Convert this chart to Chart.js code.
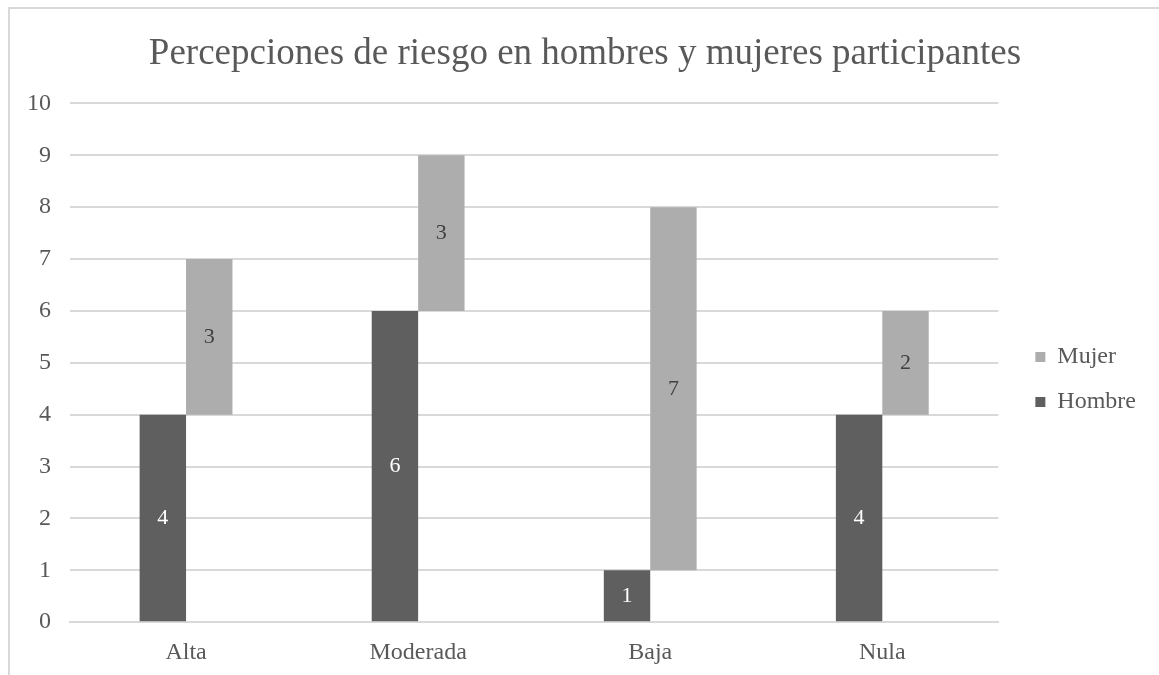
<!DOCTYPE html>
<html>
<head>
<meta charset="utf-8">
<script src="https://cdn.jsdelivr.net/npm/chart.js@4"></script>
<style>
  html, body { margin: 0; padding: 0; background: #fff; overflow: hidden; }
  #frame { position: absolute; left: 8px; top: 7px; width: 1160px; height: 700px; border: 2px solid #d9d9d9; box-sizing: border-box; }
  #wrap { position: absolute; left: 0; top: 0; width: 1159px; height: 675px; }
</style>
</head>
<body>
<div id="frame"></div>
<div id="wrap"><canvas id="riskChart"></canvas></div>
<script>
// percepciones de riesgo por sexo
const categories = ['Alta', 'Moderada', 'Baja', 'Nula'];
const hombre = [4, 6, 1, 4];
const mujer = [3, 3, 7, 2];
const yTicks = [0, 1, 2, 3, 4, 5, 6, 7, 8, 9, 10];

const serif = "'Liberation Serif', 'Times New Roman', serif";
const grey = '#595959';

// etiquetas dentro de cada barra
const barLabels = {
    id: 'barLabels',
    afterDatasetsDraw(chart) {
        const ctx = chart.ctx;
        ctx.save();
        ctx.font = '22px ' + serif;
        ctx.textAlign = 'center';
        ctx.textBaseline = 'middle';
        chart.data.datasets.forEach(function(ds, i) {
            const meta = chart.getDatasetMeta(i);
            const vals = i === 0 ? hombre : mujer;
            ctx.fillStyle = i === 0 ? '#ffffff' : '#404040';
            meta.data.forEach(function(bar, j) {
                const mid = (bar.y + bar.base) / 2;
                ctx.fillText(String(vals[j]), bar.x, mid);
            });
        });
        ctx.restore();
    }
};

// small nudge: legend and title sit a bit off in the original
const nudge = {
    id: 'nudge',
    afterLayout(chart) {
        if (chart.legend) {
            chart.legend.left += 16; chart.legend.right += 16;
            chart.legend.top += 35; chart.legend.bottom += 35;
        }
        if (chart.titleBlock) { chart.titleBlock.left += 16; chart.titleBlock.right += 16; }
    }
};

new Chart(document.getElementById('riskChart'), {
    type: 'bar',
    data: {
        labels: categories,
        datasets: [{
            label: 'Hombre',
            data: hombre,
            backgroundColor: '#5f5f5f',
            barPercentage: 1,
            categoryPercentage: 0.4
        }, {
            label: 'Mujer',
            data: mujer.map(function(v, i) { return [hombre[i], hombre[i] + v]; }),
            backgroundColor: '#adadad',
            barPercentage: 1,
            categoryPercentage: 0.4
        }]
    },
    options: {
        responsive: true,
        maintainAspectRatio: false,
        animation: false,
        layout: { padding: { left: 8, right: 29, top: 14, bottom: 0 } },
        plugins: {
            title: {
                display: true,
                text: 'Percepciones de riesgo en hombres y mujeres participantes',
                color: grey,
                font: { family: serif, size: 37, weight: 'normal' },
                padding: { top: 18, bottom: 27 }
            },
            legend: {
                position: 'right',
                reverse: true,
                labels: {
                    color: grey,
                    boxWidth: 10,
                    boxHeight: 10,
                    padding: 21,
                    font: { family: serif, size: 24 }
                }
            },
            tooltip: { enabled: false }
        },
        scales: {
            x: {
                grid: { display: false },
                border: { color: '#d9d9d9', width: 2 },
                ticks: { color: grey, font: { family: serif, size: 24 }, padding: 8 }
            },
            y: {
                min: 0,
                max: 10,
                afterBuildTicks: function(axis) { axis.ticks = yTicks.map(function(v) { return { value: v }; }); },
                grid: { color: '#d9d9d9', lineWidth: 2, drawTicks: false },
                border: { display: false },
                ticks: { color: grey, font: { family: serif, size: 24 }, padding: 19 }
            }
        }
    },
    plugins: [barLabels, nudge]
});
</script>
</body>
</html>
